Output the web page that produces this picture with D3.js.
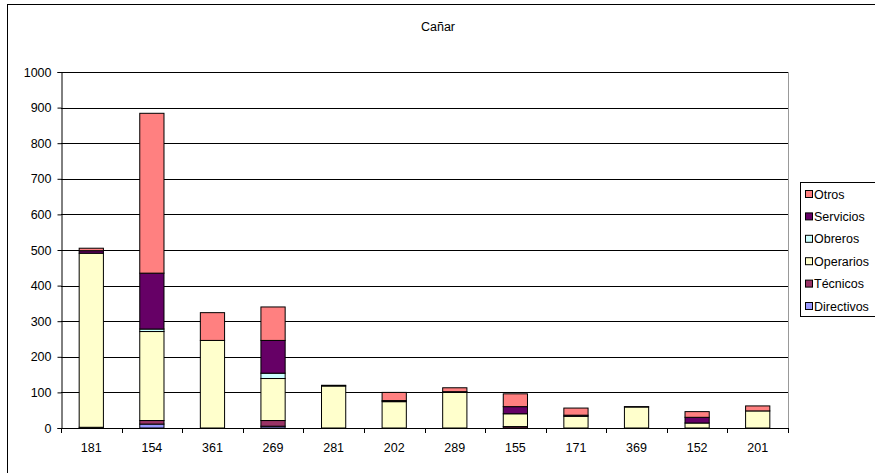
<!DOCTYPE html>
<html>
<head>
<meta charset="utf-8">
<script src="https://cdn.jsdelivr.net/npm/d3@7"></script>
<style>
  html, body { margin: 0; padding: 0; background: #fff; }
  svg { display: block; font-family: "Liberation Sans", Arial, sans-serif; }
</style>
</head>
<body>
<svg id="chart" width="875" height="473"></svg>
<script>
const categories = ["181","154","361","269","281","202","289","155","171","369","152","201"];
const seriesNames = ["Directivos","Técnicos","Operarios","Obreros","Servicios","Otros"];
const directivos = [0, 11, 0, 5, 0, 0, 0, 0, 0, 0, 0, 0];
const tecnicos   = [2, 10, 0, 16, 0, 0, 0, 4, 0, 0, 0, 0];
const operarios  = [489, 250, 246, 118, 118, 74, 100, 36, 33, 59, 14, 48];
const obreros    = [0, 7, 0, 15, 0, 0, 0, 0, 0, 0, 0, 0];
const servicios  = [7, 157, 0, 92, 2, 3, 2, 20, 3, 1, 16, 0];
const otros      = [7, 449, 78, 94, 0, 23, 11, 36, 20, 0, 16, 14];
const yTicks = [0,100,200,300,400,500,600,700,800,900,1000];
const colors = ["#9999FF","#993366","#FFFFCC","#CCFFFF","#660066","#FF8080"];

const seriesValues = [directivos, tecnicos, operarios, obreros, servicios, otros];
const table = categories.map((c, i) => {
  const row = {cat: c};
  seriesNames.forEach((s, j) => row[s] = seriesValues[j][i]);
  return row;
});

const svg = d3.select("#chart");
const W = 875, H = 473;
const L = 61, R = 788, T = 72, B = 428;
const fs = "12.5px";

// outer chart border
svg.append("rect").attr("x", 7.5).attr("y", 4.5).attr("width", 880).attr("height", 480)
  .attr("fill", "#fff").attr("stroke", "#000").attr("stroke-width", 1);

const x = d3.scaleBand().domain(categories).range([L, R]);
const y = d3.scaleLinear().domain([0, 1000]).range([B, T]);

// gridlines
svg.append("g").selectAll("line").data(yTicks.filter(v => v > 0)).join("line")
  .attr("x1", L).attr("x2", R)
  .attr("y1", d => Math.round(y(d)) + 0.5).attr("y2", d => Math.round(y(d)) + 0.5)
  .attr("stroke", "#000").attr("stroke-width", 1);

// right border of plot area
svg.append("line").attr("x1", R + 0.5).attr("x2", R + 0.5).attr("y1", T).attr("y2", B)
  .attr("stroke", "#999").attr("stroke-width", 1);

// bars
const stack = d3.stack().keys(seriesNames)(table);
const bw = x.bandwidth() * 0.4;
const gBars = svg.append("g");
stack.forEach((layer, j) => {
  gBars.append("g").attr("fill", colors[j]).attr("stroke", "#000").attr("stroke-width", 1)
    .selectAll("rect").data(layer.filter(d => d[1] - d[0] > 0)).join("rect")
    .attr("x", d => x(d.data.cat) + (x.bandwidth() - bw) / 2)
    .attr("y", d => y(d[1]))
    .attr("width", bw)
    .attr("height", d => y(d[0]) - y(d[1]));
});

// y axis
const yAxis = d3.axisLeft(y).tickValues(yTicks).tickSize(4).tickPadding(6).tickFormat(d3.format("d"));
const gy = svg.append("g").attr("transform", `translate(${L + 0.5},0)`).call(yAxis);
gy.select(".domain").attr("stroke", "#000");
gy.selectAll(".tick line").attr("stroke", "#000");
gy.selectAll("text").attr("font-size", fs).attr("fill", "#000").attr("font-family", "Liberation Sans, Arial, sans-serif");

// x axis
const gx = svg.append("g");
gx.append("line").attr("x1", L).attr("x2", R + 1).attr("y1", B + 0.5).attr("y2", B + 0.5).attr("stroke", "#000");
const bounds = categories.map(c => x(c)).concat([R]);
gx.selectAll("line.tk").data(bounds).join("line").attr("class", "tk")
  .attr("x1", d => Math.round(d) + 0.5).attr("x2", d => Math.round(d) + 0.5)
  .attr("y1", B).attr("y2", B + 5).attr("stroke", "#000");
gx.selectAll("text").data(categories).join("text")
  .attr("x", d => x(d) + x.bandwidth() / 2).attr("y", 452)
  .attr("text-anchor", "middle").attr("font-size", fs).text(d => d);

// title
svg.append("text").attr("x", 438).attr("y", 31).attr("text-anchor", "middle")
  .attr("font-size", fs).text("Cañar");

// legend
const lg = svg.append("g");
lg.append("rect").attr("x", 800.5).attr("y", 182.5).attr("width", 80).attr("height", 134)
  .attr("fill", "#fff").attr("stroke", "#000");
const legendOrder = seriesNames.map((s, j) => ({name: s, color: colors[j]})).reverse();
const items = lg.selectAll("g.it").data(legendOrder).join("g").attr("class", "it")
  .attr("transform", (d, i) => `translate(805, ${194 + i * 22.4})`);
items.append("rect").attr("x", 0.5).attr("y", -3.5).attr("width", 7).attr("height", 7)
  .attr("fill", d => d.color).attr("stroke", "#000");
items.append("text").attr("x", 9).attr("y", 4.5).attr("font-size", fs).text(d => d.name);
</script>
</body>
</html>
